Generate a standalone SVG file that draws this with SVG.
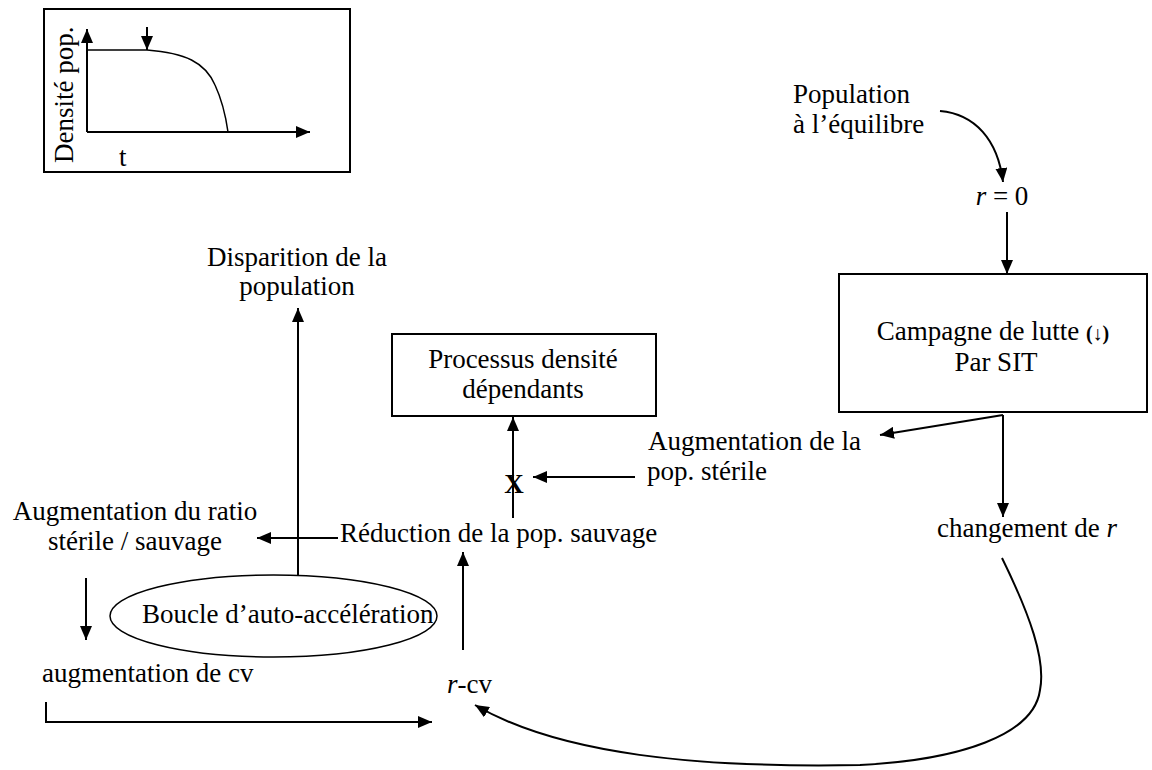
<svg xmlns="http://www.w3.org/2000/svg" width="1152" height="770" viewBox="0 0 1152 770">
<style>
text{font-family:"Liberation Serif","Times New Roman",serif;font-size:27px;fill:#000}
.c{text-anchor:middle}
.ln{fill:none;stroke:#000;stroke-width:2}
.box{fill:#fff;stroke:#000;stroke-width:2}
.thin{fill:none;stroke:#000;stroke-width:1.5}
</style>
<defs>
<marker id="ah" viewBox="0 0 14 12" refX="14" refY="6" markerWidth="14" markerHeight="12" markerUnits="userSpaceOnUse" orient="auto">
<path d="M0,0 L14,6 L0,12 z" fill="#000"/>
</marker>
</defs>
<rect width="1152" height="770" fill="#fff"/>

<g id="inset">
<rect class="box" x="44" y="9" width="306" height="163"/>
<line class="ln" x1="87" y1="132" x2="87" y2="29" marker-end="url(#ah)"/>
<line class="ln" x1="87" y1="132" x2="310" y2="132" marker-end="url(#ah)"/>
<path class="thin" d="M87,50 L147,50 C185,53 205,62 215,85 C222,100 226,118 228,132"/>
<line class="ln" x1="147" y1="27" x2="147" y2="50" marker-end="url(#ah)"/>
<text transform="translate(73,163) rotate(-90)" font-size="26">Densité pop.</text>
<text x="119" y="166" font-size="26">t</text>
</g>

<g id="n-population">
<text x="793" y="103">Population</text>
<text x="793" y="133">à l’équilibre</text>
</g>
<g id="n-r0">
<text class="c" x="1002" y="205"><tspan font-style="italic">r</tspan> = 0</text>
</g>
<g id="n-campagne">
<rect class="box" x="839" y="274" width="308" height="138"/>
<text class="c" x="993" y="340">Campagne de lutte <tspan font-size="20" font-weight="bold">(↓)</tspan></text>
<text class="c" x="996" y="371">Par SIT</text>
</g>
<g id="n-aug-sterile">
<text x="648" y="450">Augmentation de la</text>
<text x="647" y="480">pop. stérile</text>
</g>
<g id="n-changement">
<text x="937" y="537">changement de <tspan font-style="italic">r</tspan></text>
</g>
<g id="n-processus">
<rect class="box" x="392" y="334" width="264" height="82"/>
<text class="c" x="523" y="368">Processus densité</text>
<text class="c" x="523" y="398">dépendants</text>
</g>
<g id="n-x">
<text class="c" x="514" y="493" font-size="44" font-weight="bold">X</text>
</g>
<g id="n-reduction">
<text x="340" y="542">Réduction de la pop. sauvage</text>
</g>
<g id="n-disparition">
<text class="c" x="297" y="266">Disparition de la</text>
<text class="c" x="297" y="295">population</text>
</g>
<g id="n-ratio">
<text class="c" x="135" y="520">Augmentation du ratio</text>
<text class="c" x="135" y="550">stérile / sauvage</text>
</g>
<g id="n-boucle">
<ellipse class="thin" cx="273.5" cy="616" rx="163.5" ry="41"/>
<text x="142" y="623">Boucle d’auto-accélération</text>
</g>
<g id="n-augcv">
<text x="42" y="682">augmentation de cv</text>
</g>
<g id="n-rcv">
<text x="447" y="693"><tspan font-style="italic">r</tspan>-cv</text>
</g>

<g id="connectors">
<path class="ln" d="M940,111 C975,114 998,140 1003,182" marker-end="url(#ah)"/>
<line class="ln" x1="1007" y1="212" x2="1007" y2="274" marker-end="url(#ah)"/>
<line class="ln" x1="1003" y1="415" x2="880" y2="435" marker-end="url(#ah)"/>
<line class="ln" x1="1003" y1="415" x2="1003" y2="517" marker-end="url(#ah)"/>
<path class="ln" d="M1002,558 C1030,615 1046,660 1040,690 C1034,735 960,760 860,765 C700,768 560,755 475,705" marker-end="url(#ah)"/>
<line class="ln" x1="635" y1="477" x2="533" y2="477" marker-end="url(#ah)"/>
<line class="ln" x1="513" y1="518" x2="513" y2="417" marker-end="url(#ah)"/>
<line class="ln" x1="463" y1="650" x2="463" y2="552" marker-end="url(#ah)"/>
<line class="ln" x1="338" y1="538" x2="257" y2="538" marker-end="url(#ah)"/>
<line class="ln" x1="298" y1="575" x2="298" y2="308" marker-end="url(#ah)"/>
<line class="ln" x1="86" y1="578" x2="86" y2="640" marker-end="url(#ah)"/>
<path class="ln" d="M46,702 L46,722 L432,722" marker-end="url(#ah)"/>
</g>
</svg>
